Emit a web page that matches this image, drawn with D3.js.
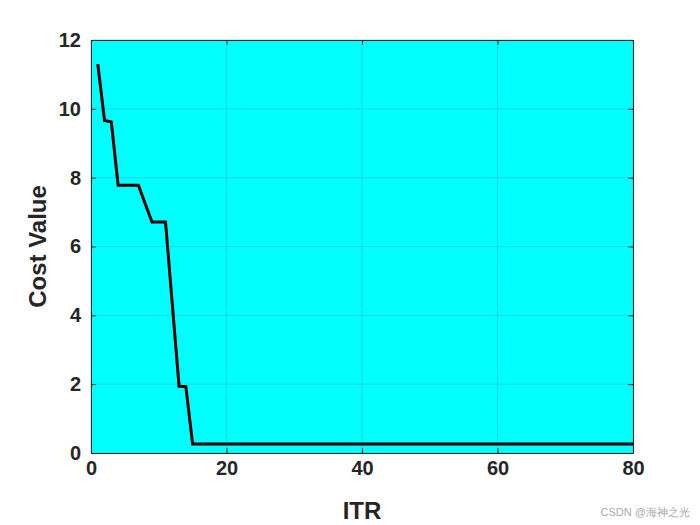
<!DOCTYPE html>
<html lang="en">
<head>
<meta charset="utf-8">
<script src="https://d3js.org/d3.v7.min.js"></script>
<style>
  body { margin: 0; background: #fff; }
  svg text { font-family: 'Liberation Sans', Arial, sans-serif; }
</style>
</head>
<body>
<div id="chart"></div>
<script>
  // data
  var iters = d3.range(1, 81);
  var earlyCost = [11.3, 9.66, 9.62, 7.78, 7.78, 7.78, 7.78, 7.24, 6.71, 6.71, 6.71, 4.32, 1.94, 1.93, 0.26];
  var cost = iters.map((d, i) => i < earlyCost.length ? earlyCost[i] : 0.26);
  var xTicks = [0, 20, 40, 60, 80];
  var yTicks = [0, 2, 4, 6, 8, 10, 12];

  var W = 700, H = 525;
  var margin = {top: 40, right: 67, bottom: 72, left: 91};
  var width = W - margin.left - margin.right,
      height = H - margin.top - margin.bottom;

  var svg = d3.select("#chart").append("svg")
      .attr("width", W).attr("height", H);
  var g = svg.append("g")
      .attr("transform", "translate(" + margin.left + "," + margin.top + ")");

  var x = d3.scaleLinear().domain([0, 80]).range([0, width]);
  var y = d3.scaleLinear().domain([0, 12]).range([height, 0]);

  g.append("rect").attr("width", width).attr("height", height).attr("fill", "#00ffff");

  // grid
  g.selectAll(".gx").data(xTicks).enter().append("line")
      .attr("x1", d => x(d)).attr("x2", d => x(d)).attr("y1", 0).attr("y2", height)
      .attr("stroke", "#26c6c6").attr("stroke-width", 0.6);
  g.selectAll(".gy").data(yTicks).enter().append("line")
      .attr("y1", d => y(d)).attr("y2", d => y(d)).attr("x1", 0).attr("x2", width)
      .attr("stroke", "#26c6c6").attr("stroke-width", 0.6);

  // line
  var line = d3.line().x((d, i) => x(iters[i])).y(d => y(d));
  g.append("path").datum(cost).attr("d", line)
      .attr("fill", "none").attr("stroke", "#000").attr("stroke-width", 3);

  // axes
  var xAxis = g.append("g").attr("transform", "translate(0," + height + ")")
      .call(d3.axisBottom(x).tickValues(xTicks).tickSize(-5).tickSizeOuter(0).tickPadding(8));
  var xTop = g.append("g")
      .call(d3.axisTop(x).tickValues(xTicks).tickSize(-5).tickSizeOuter(0).tickFormat(""));
  var yAxis = g.append("g")
      .call(d3.axisLeft(y).tickValues(yTicks).tickSize(-5).tickSizeOuter(0).tickPadding(10));
  var yRight = g.append("g").attr("transform", "translate(" + width + ",0)")
      .call(d3.axisRight(y).tickValues(yTicks).tickSize(-5).tickSizeOuter(0).tickFormat(""));
  [xAxis, xTop, yAxis, yRight].forEach(a => {
    a.selectAll("path,line").attr("stroke", "#262626").attr("stroke-width", 1);
    a.selectAll("text").attr("fill", "#262626").style("font-size", "20px").style("font-weight", "bold");
  });

  // labels
  svg.append("text").attr("x", margin.left + width / 2).attr("y", 519)
      .attr("text-anchor", "middle").style("font-size", "24px").style("font-weight", "bold")
      .attr("fill", "#262626").text("ITR");
  svg.append("text").attr("transform", "translate(46," + (margin.top + height / 2) + ") rotate(-90)")
      .attr("text-anchor", "middle").style("font-size", "24px").style("font-weight", "bold")
      .attr("fill", "#262626").text("Cost Value");

  svg.append("text").attr("x", 690).attr("y", 516).attr("text-anchor", "end")
      .style("font-size", "11px").attr("fill", "#aaa").text("CSDN @海神之光");
</script>
</body>
</html>
